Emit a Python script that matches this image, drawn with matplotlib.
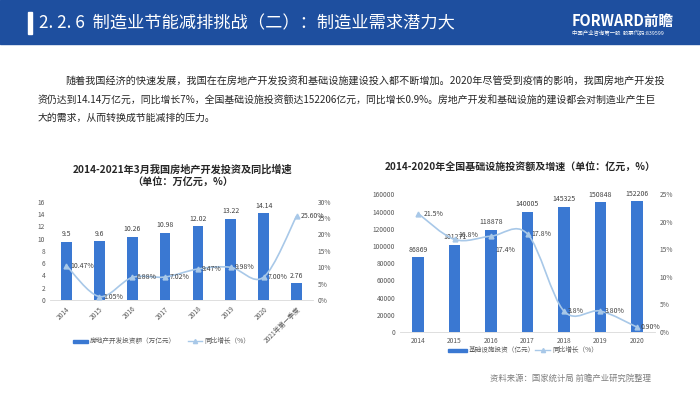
import numpy as np
import matplotlib
matplotlib.use("Agg")
import matplotlib.pyplot as plt
from matplotlib.path import Path
from matplotlib.patches import PathPatch, Rectangle
from matplotlib.lines import Line2D

plt.rcParams['font.family'] = ['Noto Sans CJK SC', 'DejaVu Sans']

# left chart: real estate investment
re_years = ['2014', '2015', '2016', '2017', '2018', '2019', '2020', '2021年第一季度']
re_invest = [9.5, 9.6, 10.26, 10.98, 12.02, 13.22, 14.14, 2.76]
re_growth = [10.47, 1.05, 6.88, 7.02, 9.47, 9.98, 7.00, 25.60]

# right chart: infrastructure investment
inf_years = ['2014', '2015', '2016', '2017', '2018', '2019', '2020']
inf_invest = [86869, 101271, 118878, 140005, 145325, 150848, 152206]
inf_growth = [21.5, 16.8, 17.4, 17.8, 3.8, 3.80, 0.90]
inf_growth_labels = ['21.5%', '16.8%', '17.4%', '17.8%', '3.8%', '3.80%', '0.90%']

BAR = '#3a78d2'
LINE = '#a8c8e8'
TXT = '#404040'
TICK = '#595959'
W, H = 700, 393


def box(l, t, r, b):
    # pixel box (from top-left) -> figure fraction
    return [l / W, (H - b) / H, (r - l) / W, (b - t) / H]


def fx(px):
    return px / W


def fy(py):
    return 1 - py / H


def smooth(ax, xs, ys, **kw):
    n = len(xs)
    verts = [(xs[0], ys[0])]
    codes = [Path.MOVETO]
    for i in range(n - 1):
        a = max(i - 1, 0)
        d = min(i + 2, n - 1)
        c1 = (xs[i] + (xs[i + 1] - xs[a]) / 6, ys[i] + (ys[i + 1] - ys[a]) / 6)
        c2 = (xs[i + 1] - (xs[d] - xs[i]) / 6, ys[i + 1] - (ys[d] - ys[i]) / 6)
        verts += [c1, c2, (xs[i + 1], ys[i + 1])]
        codes += [Path.CURVE4] * 3
    ax.add_patch(PathPatch(Path(verts, codes), fill=False, **kw))


def style(ax, ax2):
    for a in (ax, ax2):
        for s in a.spines.values():
            s.set_visible(False)
        a.tick_params(length=0, labelsize=4.8, labelcolor=TICK)
    ax.spines['bottom'].set_visible(True)
    ax.spines['bottom'].set_color('#d9d9d9')
    ax.spines['bottom'].set_linewidth(0.6)


def legend(y, p0, p1, t1, l0, l1, t2):
    # hand-drawn legend: bar swatch + line-with-triangle
    fig.patches.append(Rectangle((fx(p0), fy(y + 1.5)), fx(p1 - p0), 3 / H,
                                 transform=fig.transFigure, color=BAR))
    fig.text(fx(p1 + 2), fy(y), t1, fontsize=4.8, color=TICK, va='center')
    fig.add_artist(Line2D([fx(l0), fx(l1)], [fy(y), fy(y)], transform=fig.transFigure,
                          color=LINE, lw=1.0))
    fig.add_artist(Line2D([fx((l0 + l1) / 2)], [fy(y)], transform=fig.transFigure,
                          color=LINE, marker='^', ms=3))
    fig.text(fx(l1 + 2), fy(y), t2, fontsize=4.8, color=TICK, va='center')


fig = plt.figure(figsize=(7, 3.93), dpi=100)

# header band
fig.patches.append(Rectangle((0, fy(44)), 1, 44 / H, transform=fig.transFigure,
                             color='#1e4f9f', zorder=0))
fig.patches.append(Rectangle((fx(28), fy(34)), 4 / W, 22 / H, transform=fig.transFigure,
                             color='white', zorder=1))
fig.text(fx(39), fy(23), '2. 2. 6  制造业节能减排挑战（二）：制造业需求潜力大',
         color='white', fontsize=12.4, va='center')
fig.text(fx(572), fy(21), 'FORWARD前瞻', color='white', fontsize=10.5,
         fontweight='bold', va='center')
fig.text(fx(572), fy(32), '中国产业咨询第一股  股票代码:839599', color='white',
         fontsize=3.9, va='center')

# paragraph
lines = ['随着我国经济的快速发展，我国在在房地产开发投资和基础设施建设投入都不断增加。2020年尽管受到疫情的影响，我国房地产开发投',
         '资仍达到14.14万亿元，同比增长7%，全国基础设施投资额达152206亿元，同比增长0.9%。房地产开发和基础设施的建设都会对制造业产生巨',
         '大的需求，从而转换成节能减排的压力。']
fig.text(fx(65), fy(82), lines[0], fontsize=7.25, color='#262626', va='center')
fig.text(fx(38), fy(100), lines[1], fontsize=7.1, color='#262626', va='center')
fig.text(fx(38), fy(118), lines[2], fontsize=7.15, color='#262626', va='center')

# ---- left chart
ax = fig.add_axes(box(50, 201.7, 313, 300))
ax2 = ax.twinx()
x = np.arange(len(re_years))
ax.bar(x, re_invest, width=0.33, color=BAR, zorder=2)
ax.set_xlim(-0.5, len(x) - 0.5)
ax.set_ylim(0, 16)
ax.set_yticks(range(0, 17, 2))
ax.set_xticks(x)
ax.set_xticklabels(re_years, rotation=45, ha='right', rotation_mode='anchor')
for xi, v in zip(x, re_invest):
    ax.annotate(f'{v:g}', (xi, v), xytext=(0, 2.5), textcoords='offset points',
                ha='center', va='bottom', fontsize=5, color=TXT)
ax2.set_ylim(0, 30)
ax2.set_yticks(range(0, 31, 5))
ax2.set_yticklabels([f'{t}%' for t in range(0, 31, 5)])
smooth(ax2, x, re_growth, color=LINE, lw=1.2, zorder=3)
ax2.plot(x, re_growth, ls='none', marker='^', ms=3.5, color=LINE, zorder=4)
for xi, v in zip(x, re_growth):
    ax2.annotate(f'{v:.2f}%', (xi, v), xytext=(3, 0), textcoords='offset points',
                 ha='left', va='center', fontsize=5, color=TXT)
style(ax, ax2)
fig.text(fx(183), fy(170), '2014-2021年3月我国房地产开发投资及同比增速', fontsize=7.3,
         fontweight='bold', ha='center', va='center', color='#262626')
fig.text(fx(183), fy(183), '（单位：万亿元，%）', fontsize=7.3,
         fontweight='bold', ha='center', va='center', color='#262626')
legend(341, 73, 88, '房地产开发投资额（万亿元）', 188, 202, '同比增长（%）')

# ---- right chart
bx = fig.add_axes(box(400, 194.3, 655, 332))
bx2 = bx.twinx()
x = np.arange(len(inf_years))
bx.bar(x, inf_invest, width=0.32, color=BAR, zorder=2)
bx.set_xlim(-0.5, len(x) - 0.5)
bx.set_ylim(0, 160000)
bx.set_yticks(range(0, 160001, 20000))
bx.set_xticks(x)
bx.set_xticklabels(inf_years)
for xi, v in zip(x, inf_invest):
    bx.annotate(f'{v}', (xi, v), xytext=(0, 2.5), textcoords='offset points',
                ha='center', va='bottom', fontsize=5, color=TXT)
bx2.set_ylim(0, 25)
bx2.set_yticks(range(0, 26, 5))
bx2.set_yticklabels([f'{t}%' for t in range(0, 26, 5)])
smooth(bx2, x, inf_growth, color=LINE, lw=1.2, zorder=3)
bx2.plot(x, inf_growth, ls='none', marker='^', ms=3.5, color=LINE, zorder=4)
offs = [(4, 0), (3, 3), (3, -10), (3, 0), (3, 0), (3, 0), (3, 0)]
for xi, v, lab, o in zip(x, inf_growth, inf_growth_labels, offs):
    bx2.annotate(lab, (xi, v), xytext=o, textcoords='offset points',
                 ha='left', va='center', fontsize=5, color=TXT)
style(bx, bx2)
fig.text(fx(520), fy(168), '2014-2020年全国基础设施投资额及增速（单位：亿元，%）',
         fontsize=7.2, fontweight='bold', ha='center', va='center', color='#262626')
legend(350, 448, 467, '基础设施投资（亿元）', 535, 550, '同比增长（%）')

fig.text(fx(570), fy(378), '资料来源：国家统计局 前瞻产业研究院整理', fontsize=6.0,
         color='#7f7f7f', ha='center', va='center')

fig.savefig('out.png', dpi=100)
